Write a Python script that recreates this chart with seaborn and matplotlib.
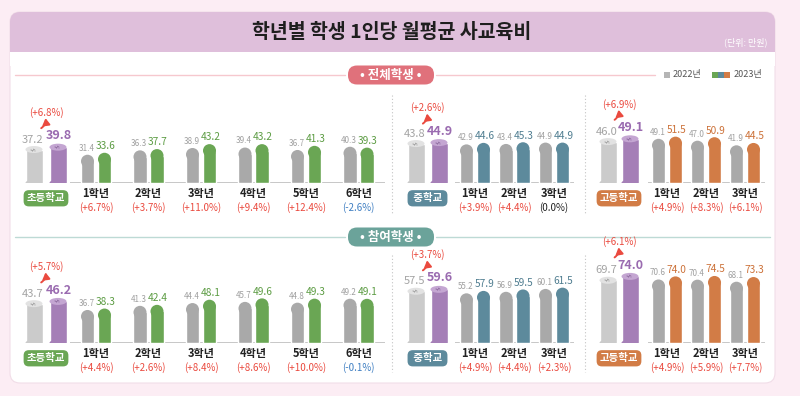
import matplotlib
matplotlib.use("Agg")
import matplotlib.pyplot as plt
import seaborn as sns
import pandas as pd
from matplotlib.patches import Ellipse, FancyBboxPatch, Rectangle

# ---------------- data ----------------
grades_elem = ["1학년", "2학년", "3학년", "4학년", "5학년", "6학년"]
grades_sec = ["1학년", "2학년", "3학년"]
school_labels = ["초등학교", "중학교", "고등학교"]

# 전체학생
all_total_2022 = [37.2, 43.8, 46.0]
all_total_2023 = [39.8, 44.9, 49.1]
all_total_chg = ["+6.8", "+2.6", "+6.9"]
all_elem_2022 = [31.4, 36.3, 38.9, 39.4, 36.7, 40.3]
all_elem_2023 = [33.6, 37.7, 43.2, 43.2, 41.3, 39.3]
all_elem_chg = ["+6.7", "+3.7", "+11.0", "+9.4", "+12.4", "-2.6"]
all_mid_2022 = [42.9, 43.4, 44.9]
all_mid_2023 = [44.6, 45.3, 44.9]
all_mid_chg = ["+3.9", "+4.4", "0.0"]
all_high_2022 = [49.1, 47.0, 41.9]
all_high_2023 = [51.5, 50.9, 44.5]
all_high_chg = ["+4.9", "+8.3", "+6.1"]

# 참여학생
part_total_2022 = [43.7, 57.5, 69.7]
part_total_2023 = [46.2, 59.6, 74.0]
part_total_chg = ["+5.7", "+3.7", "+6.1"]
part_elem_2022 = [36.7, 41.3, 44.4, 45.7, 44.8, 49.2]
part_elem_2023 = [38.3, 42.4, 48.1, 49.6, 49.3, 49.1]
part_elem_chg = ["+4.4", "+2.6", "+8.4", "+8.6", "+10.0", "-0.1"]
part_mid_2022 = [55.2, 56.9, 60.1]
part_mid_2023 = [57.9, 59.5, 61.5]
part_mid_chg = ["+4.9", "+4.4", "+2.3"]
part_high_2022 = [70.6, 70.4, 68.1]
part_high_2023 = [74.0, 74.5, 73.3]
part_high_chg = ["+4.9", "+5.9", "+7.7"]

# ---------------- style ----------------
sns.set_theme(style="white")
plt.rcParams["font.family"] = ["Noto Sans CJK KR", "DejaVu Sans"]

W, H = 800, 396
PXU = 0.9  # pixels per data unit (ylim 0..100 -> 90 px)
GRAY = "#a9a9a9"
CYL_GRAY, CYL_GRAY_TOP = "#cbcbcb", "#e2e2e2"
PURPLE, PURPLE_TOP = "#a57fb7", "#c4a6d2"
RED, BLUE = "#ea4a3f", "#3f7fc2"
GREEN, GREEN_T = "#6aa654", "#5c9c43"
TEAL, TEAL_T = "#5d8a9c", "#4f7d90"
ORANGE, ORANGE_T = "#d27c46", "#cc7138"

fig = plt.figure(figsize=(8, 3.96), dpi=100)
fig.patch.set_facecolor("#fcedf4")

bg = fig.add_axes([0, 0, 1, 1])
bg.set_xlim(0, W)
bg.set_ylim(H, 0)
bg.axis("off")

# card + header
bg.add_patch(FancyBboxPatch((10, 12), 765, 371, boxstyle="round,pad=0,rounding_size=10",
                            fc="white", ec="#f1dde8", lw=0.8))
bg.add_patch(FancyBboxPatch((10, 12), 765, 50, boxstyle="round,pad=0,rounding_size=10",
                            fc="#dfbfdb", ec="none"))
bg.add_patch(Rectangle((10, 52), 765, 14, fc="white", ec="none"))
bg.text(392, 32, "학년별 학생 1인당 월평균 사교육비", fontsize=14, fontweight="bold",
        color="#1e1e1e", ha="center", va="center")
bg.text(768, 42, "(단위: 만원)", fontsize=6.5, color="white", ha="right", va="center")

# section headers
def section(y, text, fc, lc, right_end):
    bg.plot([15, 345], [y, y], color=lc, lw=1)
    bg.plot([436, right_end], [y, y], color=lc, lw=1)
    bg.add_patch(FancyBboxPatch((348, y - 9.5), 86, 19, boxstyle="round,pad=0,rounding_size=9",
                                fc=fc, ec="none"))
    bg.text(391, y, "• " + text + " •", fontsize=9, fontweight="bold", color="white",
            ha="center", va="center")

section(75, "전체학생", "#e0717b", "#f6c8ce", 655)
section(237, "참여학생", "#6ba39a", "#bddad5", 770)

# legend
bg.add_patch(Rectangle((664, 72), 6, 6, fc="#b5b5b5", ec="none"))
bg.text(673, 75, "2022년", fontsize=6.5, color="#555555", va="center")
for k, c in enumerate([GREEN, TEAL, ORANGE]):
    bg.add_patch(Rectangle((712 + 6 * k, 72), 6, 6, fc=c, ec="none"))
bg.text(734, 75, "2023년", fontsize=6.5, color="#555555", va="center")

# dotted separators
for x in (392, 585):
    bg.plot([x, x], [95, 215], color="#c4c4c4", lw=0.8, ls=(0, (1, 2)))
    bg.plot([x, x], [255, 372], color="#c4c4c4", lw=0.8, ls=(0, (1, 2)))


def chg_color(s):
    if s.startswith("+"):
        return RED
    if s.startswith("-"):
        return BLUE
    return "#222222"


def new_ax(left, right, base):
    ax = fig.add_axes([left / W, 1 - base / H, (right - left) / W, 90 / H])
    ax.patch.set_alpha(0)
    return ax


def grade_ax(base, start, sp, labels, v22, v23, chg, color, tcolor):
    n = len(labels)
    ax = new_ax(start - sp / 2, start + (n - 0.5) * sp, base)
    df = pd.DataFrame({"grade": labels * 2, "year": ["2022"] * n + ["2023"] * n,
                       "value": v22 + v23})
    bw = 34 / sp
    sns.barplot(data=df, x="grade", y="value", hue="year", order=labels,
                hue_order=["2022", "2023"], palette={"2022": GRAY, "2023": color},
                width=bw, gap=0.235, saturation=1, legend=False, ax=ax)
    ax.set_xlim(-0.5, n - 0.5)
    ax.set_ylim(0, 100)
    ax.axis("off")
    ax.axhline(0, color="#c3c3c3", lw=1.3, zorder=0)
    for p in list(ax.patches):
        x0, w, h = p.get_x(), p.get_width(), p.get_height()
        ry = (w * sp / 2) / PXU
        p.set_height(h - ry)
        ax.add_patch(Ellipse((x0 + w / 2, h - ry), w, 2 * ry, fc=p.get_facecolor(),
                             ec="none", zorder=p.get_zorder()))
    for i in range(n):
        ax.annotate(f"{v22[i]:.1f}", xy=(i - bw / 4, v22[i]), xytext=(-0.8, 1.5),
                    textcoords="offset points", ha="center", va="bottom",
                    fontsize=5.8, color="#a0a0a0", annotation_clip=False)
        ax.annotate(f"{v23[i]:.1f}", xy=(i + bw / 4, v23[i]), xytext=(0.6, 1.2),
                    textcoords="offset points", ha="center", va="bottom",
                    fontsize=7.3, color=tcolor, annotation_clip=False)
        ax.annotate(labels[i], xy=(i, 0), xytext=(0, -7.5), textcoords="offset points",
                    ha="center", va="center", fontsize=8, fontweight="bold",
                    color="#222222", annotation_clip=False)
        ax.annotate(f"({chg[i]}%)", xy=(i, 0), xytext=(0, -17.5), textcoords="offset points",
                    ha="center", va="center", fontsize=7, color=chg_color(chg[i]),
                    annotation_clip=False)
    return ax


def cyl_ax(base, c0, c1, v22, v23, chg, label, pc):
    sp = c1 - c0
    ax = new_ax(c0 - sp / 2, c1 + sp / 2, base)
    df = pd.DataFrame({"year": ["2022", "2023"], "value": [v22, v23]})
    bw = 17 / sp
    sns.barplot(data=df, x="year", y="value", hue="year", hue_order=["2022", "2023"],
                palette={"2022": CYL_GRAY, "2023": PURPLE}, width=bw, saturation=1,
                legend=False, ax=ax)
    ax.set_xlim(-0.5, 1.5)
    ax.set_ylim(0, 100)
    ax.axis("off")
    ey = 3.5 / PXU
    tops = [CYL_GRAY_TOP, PURPLE_TOP]
    icons = ["#8a8a8a", "#7d5a90"]
    for k, cont in enumerate(ax.containers):
        for p in cont:
            x0, w, h = p.get_x(), p.get_width(), p.get_height()
            cx = x0 + w / 2
            ax.add_patch(Ellipse((cx, 0), w, 2 * ey, fc=p.get_facecolor(), ec="none",
                                 zorder=p.get_zorder()))
            ax.add_patch(Ellipse((cx, h), w, 2 * ey, fc=tops[k], ec="none",
                                 zorder=p.get_zorder() + 0.1))
            ax.text(cx, h, "ϟ", fontsize=5, color=icons[k], ha="center", va="center",
                    rotation=60, zorder=p.get_zorder() + 0.2, family="DejaVu Sans")
    ax.annotate(f"{v22:.1f}", xy=(0, v22), xytext=(-1, 3.5), textcoords="offset points",
                ha="center", va="bottom", fontsize=8, color="#a3a3a3",
                annotation_clip=False)
    ax.annotate(f"{v23:.1f}", xy=(1, v23), xytext=(0.5, 3.5), textcoords="offset points",
                ha="center", va="bottom", fontsize=9, fontweight="bold", color="#9a6bb0",
                annotation_clip=False)
    ax.annotate(f"({chg}%)", xy=(0.5, v23), xytext=(0, 25), textcoords="offset points",
                ha="center", va="center", fontsize=7, color=RED, annotation_clip=False)
    ax.annotate("", xy=(0.48, v23 + 29 / PXU), xycoords="data",
                xytext=(0.3, v23 + 19 / PXU), textcoords="data",
                arrowprops=dict(arrowstyle="-|>,head_length=0.3,head_width=0.18", color=RED,
                                lw=1.4, connectionstyle="arc3,rad=0.3",
                                shrinkA=0, shrinkB=0), annotation_clip=False)
    ax.annotate(label, xy=(0.5, 0), xytext=(0, -11), textcoords="offset points",
                ha="center", va="center", fontsize=7.5, fontweight="bold", color="white",
                annotation_clip=False,
                bbox=dict(boxstyle="round,pad=0.3,rounding_size=0.5", fc=pc, ec="none"))
    return ax


rows = [
    (183, all_total_2022, all_total_2023, all_total_chg,
     (all_elem_2022, all_elem_2023, all_elem_chg),
     (all_mid_2022, all_mid_2023, all_mid_chg),
     (all_high_2022, all_high_2023, all_high_chg)),
    (343, part_total_2022, part_total_2023, part_total_chg,
     (part_elem_2022, part_elem_2023, part_elem_chg),
     (part_mid_2022, part_mid_2023, part_mid_chg),
     (part_high_2022, part_high_2023, part_high_chg)),
]

for base, t22, t23, tchg, elem, mid, high in rows:
    cyl_ax(base, 34, 58, t22[0], t23[0], tchg[0], school_labels[0], GREEN)
    cyl_ax(base, 416, 439, t22[1], t23[1], tchg[1], " " + school_labels[1] + " ", TEAL)
    cyl_ax(base, 608, 630, t22[2], t23[2], tchg[2], school_labels[2], ORANGE)
    grade_ax(base, 96, 52.5, grades_elem, *elem, GREEN, GREEN_T)
    grade_ax(base, 475, 39.5, grades_sec, *mid, TEAL, TEAL_T)
    grade_ax(base, 667, 39, grades_sec, *high, ORANGE, ORANGE_T)

fig.savefig("out.png", dpi=100, facecolor=fig.get_facecolor())
